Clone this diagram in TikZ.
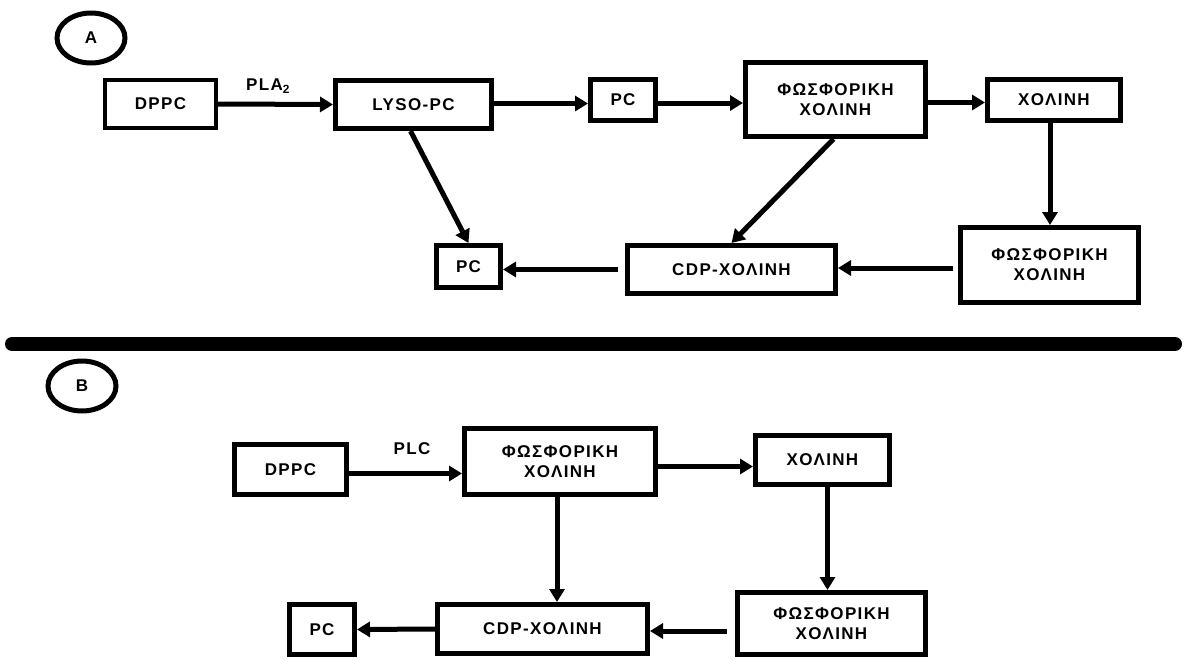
\documentclass[tikz,border=0pt]{standalone}
\usepackage{fontspec}
\setmainfont{Liberation Sans}[LetterSpace=8]
\usetikzlibrary{arrows.meta,shapes.geometric}
\newcommand{\lblfont}{\bfseries\fontsize{17}{20}\selectfont}
\tikzset{
  box/.style={draw, rectangle, line width=5pt, inner sep=0pt, align=center, font=\lblfont},
  flow/.style={line width=5pt, -{Triangle[length=13pt,width=15pt]}},
  tag/.style={draw, ellipse, line width=5pt, inner sep=0pt, font=\lblfont,
              minimum width=68pt, minimum height=50pt},
  enzyme/.style={font=\lblfont, inner sep=0pt}
}
\begin{document}
\begin{tikzpicture}[x=1pt,y=-1pt]
\useasboundingbox (0,0) rectangle (1184,659);

% ---------- panel A ----------
\node[tag] (tagA) at (91,38) {A};

\node[box, line width=4pt, minimum width=111pt, minimum height=48pt] (dppcA) at (160.5,104) {DPPC};
\node[box, minimum width=156pt, minimum height=48pt] (lyso) at (413.5,104.5) {LYSO-PC};
\node[box, minimum width=65pt, minimum height=41pt] (pcA1) at (623,100) {PC};
\node[box, minimum width=180pt, minimum height=74pt] (phosA1) at (835.5,99.5) {ΦΩΣΦΟΡΙΚΗ\\ΧΟΛΙΝΗ};
\node[box, minimum width=133pt, minimum height=41pt] (cholA) at (1054,100) {ΧΟΛΙΝΗ};
\node[box, minimum width=178pt, minimum height=75pt] (phosA2) at (1049.5,265) {ΦΩΣΦΟΡΙΚΗ\\ΧΟΛΙΝΗ};
\node[box, minimum width=208pt, minimum height=48pt] (cdpA) at (731.5,269.5) {CDP-ΧΟΛΙΝΗ};
\node[box, minimum width=64pt, minimum height=42pt] (pcA2) at (468.5,266.5) {PC};

\node[enzyme] (plaA) at (268,86) {PLA\textsubscript{2}};

\draw[flow] (dppcA.east) -- (lyso.west);
\draw[flow] ([yshift=1pt]lyso.east) -- ([yshift=1pt]lyso.east -| pcA1.west);
\draw[flow] ([yshift=-3pt]pcA1.east) -- ([yshift=-3pt]pcA1.east -| phosA1.west);
\draw[flow] ([yshift=-3pt]phosA1.east) -- ([yshift=-3pt]phosA1.east -| cholA.west);
\draw[flow] ([xshift=-4pt]cholA.south) -- ([xshift=-4pt]cholA.south |- phosA2.north);
\draw[flow, shorten <=5pt] ([yshift=-3pt]phosA2.west) -- ([yshift=-3pt]phosA2.west -| cdpA.east);
\draw[flow, shorten <=7pt] (cdpA.west) -- (cdpA.west -| pcA2.east);
\draw[flow] ([xshift=-3pt]lyso.south) -- (pcA2.north);
\draw[flow] ([xshift=-2pt]phosA1.south) -- (cdpA.north);

% ---------- divider ----------
\draw[line width=14pt, line cap=round] (12,344) -- (1175,344);

% ---------- panel B ----------
\node[tag] (tagB) at (82,386) {B};

\node[box, minimum width=112pt, minimum height=50pt] (dppcB) at (290.5,469.5) {DPPC};
\node[box, minimum width=191pt, minimum height=66pt] (phosB1) at (560,461.5) {ΦΩΣΦΟΡΙΚΗ\\ΧΟΛΙΝΗ};
\node[box, minimum width=134pt, minimum height=49pt] (cholB) at (822.5,460) {ΧΟΛΙΝΗ};
\node[box, minimum width=188pt, minimum height=62pt] (phosB2) at (831.5,623.5) {ΦΩΣΦΟΡΙΚΗ\\ΧΟΛΙΝΗ};
\node[box, minimum width=210pt, minimum height=49pt] (cdpB) at (542.5,629) {CDP-ΧΟΛΙΝΗ};
\node[box, minimum width=65pt, minimum height=50pt] (pcB) at (322,629.5) {PC};

\node[enzyme] (plcB) at (412,449) {PLC};

\draw[flow] ([yshift=-4pt]dppcB.east) -- ([yshift=-4pt]dppcB.east -| phosB1.west);
\draw[flow] ([yshift=-5pt]phosB1.east) -- ([yshift=-5pt]phosB1.east -| cholB.west);
\draw[flow] ([xshift=5pt]cholB.south) -- ([xshift=5pt]cholB.south |- phosB2.north);
\draw[flow] ([xshift=-3pt]phosB1.south) -- ([xshift=-3pt]phosB1.south |- cdpB.north);
\draw[flow, shorten <=8pt] ([yshift=-2pt]cdpB.east -| phosB2.west) -- ([yshift=-2pt]cdpB.east);
\draw[flow] (cdpB.west) -- (pcB.east);
\end{tikzpicture}
\end{document}
